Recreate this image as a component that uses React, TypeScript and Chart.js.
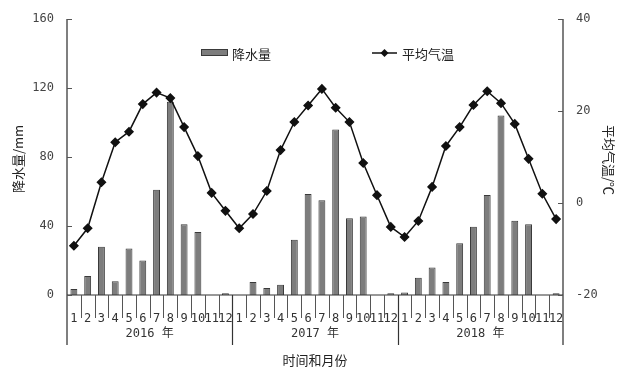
import React, { useEffect, useRef } from "react";
import { Chart, registerables } from "chart.js";

Chart.register(...registerables);

// ---- Data ----
const years = ["2016 年", "2017 年", "2018 年"];
const monthLabels = ["1", "2", "3", "4", "5", "6", "7", "8", "9", "10", "11", "12"];

const precip2016 = [3.5, 11, 28, 8, 27, 20, 61, 112, 41, 36.5, 0, 1];
const precip2017 = [0, 7.5, 4, 6, 32, 58.5, 55, 96, 44.5, 45.5, 0, 1];
const precip2018 = [1.5, 10, 16, 7.5, 30, 39.5, 58, 104, 43, 41, 0, 1];

const temp2016 = [-9.3, -5.5, 4.5, 13.2, 15.5, 21.5, 24, 22.8, 16.5, 10.2, 2.2, -1.7];
const temp2017 = [-5.5, -2.4, 2.6, 11.5, 17.6, 21.2, 24.8, 20.7, 17.6, 8.7, 1.7, -5.2];
const temp2018 = [-7.4, -3.9, 3.5, 12.4, 16.5, 21.3, 24.3, 21.7, 17.2, 9.6, 2, -3.5];

const precipLabel = "降水量";
const tempLabel = "平均气温";
const leftTitle = "降水量/mm";
const rightTitle = "平均气温/℃";
const xTitle = "时间和月份";

const leftTicks = [0, 40, 80, 120, 160];
const rightTicks = [-20, 0, 20, 40];

const categories = years.flatMap((y) => monthLabels.map((m) => `${y}-${m}`));
const precipAll = [...precip2016, ...precip2017, ...precip2018];
const tempAll = [...temp2016, ...temp2017, ...temp2018];

const BAR_FILL = "#7d7d7d";
const BAR_BORDER = "#3a3a3a";
const LINE_COLOR = "#111";
const CJK = "'Noto Sans CJK SC', sans-serif";
const MONO = "'DejaVu Sans Mono', monospace";

const decor = {
  id: "decor",
  afterDraw(chart: any) {
    const { ctx, chartArea, scales } = chart;
    const { left, right, top, bottom } = chartArea;
    const x = scales.x;
    const y = scales.y;
    const y1 = scales.y1;
    const line = (x1: number, yA: number, x2: number, yB: number) => {
      ctx.beginPath();
      ctx.moveTo(x1, yA);
      ctx.lineTo(x2, yB);
      ctx.stroke();
    };
    ctx.save();
    const axisBottom = 345;
    // axis lines
    ctx.strokeStyle = "#555";
    ctx.lineWidth = 1.5;
    line(left, top, left, axisBottom);
    line(right, top, right, axisBottom);
    ctx.strokeStyle = "#333";
    ctx.lineWidth = 1.2;
    line(left, bottom, right, bottom);
    // inward ticks
    ctx.strokeStyle = "#555";
    ctx.lineWidth = 1;
    for (const v of leftTicks) {
      const py = Math.round(y.getPixelForValue(v)) + 0.5;
      line(left, py, left + 5, py);
    }
    for (const v of rightTicks) {
      const py = Math.round(y1.getPixelForValue(v)) + 0.5;
      line(right - 5, py, right, py);
    }
    // month dividers
    const n = categories.length;
    const step = x.getPixelForValue(1) - x.getPixelForValue(0);
    for (let i = 1; i < n; i++) {
      const px = Math.round(x.getPixelForValue(i) - step / 2) + 0.5;
      if (i % 12 === 0) {
        ctx.strokeStyle = "#333";
        ctx.lineWidth = 1.2;
        line(px, bottom, px, axisBottom);
      } else {
        ctx.strokeStyle = "#555";
        ctx.lineWidth = 1;
        line(px, bottom, px, bottom + 23);
      }
    }
    // year labels
    ctx.fillStyle = "#333";
    ctx.textAlign = "center";
    ctx.textBaseline = "middle";
    ctx.font = `12px ${MONO}, ${CJK}`;
    years.forEach((yr, k) => {
      const cx = (x.getPixelForValue(k * 12) + x.getPixelForValue(k * 12 + 11)) / 2;
      ctx.fillText(yr, cx, 334);
    });
    // x title
    ctx.font = `13px ${CJK}`;
    ctx.fillStyle = "#222";
    ctx.fillText(xTitle, (left + right) / 2, 360);
    // left title
    ctx.save();
    ctx.translate(18, 159);
    ctx.rotate(-Math.PI / 2);
    ctx.fillText(leftTitle, 0, 0);
    ctx.restore();
    // right title
    ctx.save();
    ctx.translate(609, 160);
    ctx.rotate(Math.PI / 2);
    ctx.fillText(rightTitle, 0, 0);
    ctx.restore();
    // legend
    ctx.fillStyle = BAR_FILL;
    ctx.fillRect(201, 49, 27, 7);
    ctx.strokeStyle = BAR_BORDER;
    ctx.lineWidth = 1;
    ctx.strokeRect(201.5, 49.5, 26, 6);
    ctx.fillStyle = "#222";
    ctx.textAlign = "left";
    ctx.fillText(precipLabel, 232, 54);
    ctx.strokeStyle = LINE_COLOR;
    ctx.lineWidth = 1.5;
    line(372, 53, 397, 53);
    ctx.fillStyle = LINE_COLOR;
    ctx.beginPath();
    ctx.moveTo(384.5, 49);
    ctx.lineTo(388.5, 53);
    ctx.lineTo(384.5, 57);
    ctx.lineTo(380.5, 53);
    ctx.closePath();
    ctx.fill();
    ctx.fillStyle = "#222";
    ctx.fillText(tempLabel, 402, 54);
    ctx.restore();
  },
};

export default function App() {
  const ref = useRef<HTMLCanvasElement | null>(null);
  useEffect(() => {
    if (!ref.current) return;
    const chart = new Chart(ref.current, {
      type: "bar",
      data: {
        labels: categories,
        datasets: [
          {
            type: "line",
            label: tempLabel,
            data: tempAll,
            yAxisID: "y1",
            borderColor: LINE_COLOR,
            borderWidth: 1.5,
            pointStyle: "rectRot",
            pointRadius: 4,
            pointBackgroundColor: LINE_COLOR,
            pointBorderColor: LINE_COLOR,
            tension: 0,
            order: 0,
          } as any,
          {
            type: "bar",
            label: precipLabel,
            data: precipAll,
            yAxisID: "y",
            backgroundColor: BAR_FILL,
            borderColor: BAR_BORDER,
            borderWidth: 1,
            categoryPercentage: 1,
            barPercentage: 0.5,
            order: 1,
          } as any,
        ],
      },
      options: {
        responsive: false,
        animation: false,
        layout: { padding: { top: 19, bottom: 0, left: 0, right: 0 } },
        plugins: {
          legend: { display: false },
          tooltip: { enabled: false },
        },
        scales: {
          x: {
            offset: true,
            grid: { display: false },
            border: { display: false },
            ticks: {
              autoSkip: false,
              maxRotation: 0,
              minRotation: 0,
              padding: 9,
              color: "#333",
              font: { family: MONO, size: 12 },
              callback: (_v: any, i: number) => monthLabels[i % 12],
            },
            afterFit: (s: any) => {
              s.height = 84;
            },
          },
          y: {
            position: "left",
            min: 0,
            max: 160,
            grid: { display: false },
            border: { display: false },
            ticks: {
              stepSize: 40,
              padding: 5,
              color: "#444",
              font: { family: MONO, size: 12 },
            },
            afterFit: (s: any) => {
              s.width = 67;
            },
          },
          y1: {
            position: "right",
            min: -20,
            max: 40,
            grid: { display: false },
            border: { display: false },
            ticks: {
              stepSize: 20,
              padding: 5,
              color: "#444",
              font: { family: MONO, size: 12 },
            },
            afterFit: (s: any) => {
              s.width = 58;
            },
          },
        },
      } as any,
      plugins: [decor],
    });
    return () => chart.destroy();
  }, []);
  return (
    <div style={{ position: "fixed", left: 0, top: 0, width: 621, height: 379, background: "#fff" }}>
      <canvas ref={ref} width={621} height={379} style={{ display: "block" }} />
    </div>
  );
}
